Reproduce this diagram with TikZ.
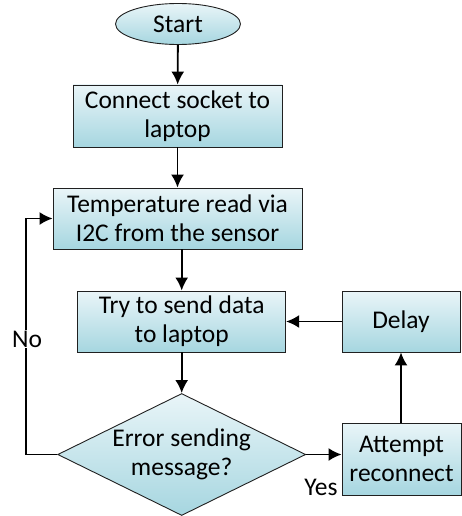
\documentclass[tikz,border=0pt]{standalone}
\usepackage{fontspec}
\setmainfont{Carlito}
\usetikzlibrary{shapes.geometric,arrows.meta}

\definecolor{boxtop}{HTML}{E9F5F8}
\definecolor{boxbottom}{HTML}{A6D6E0}
\definecolor{boxline}{HTML}{202020}

\tikzset{
  base/.style={draw=boxline, line width=0.9pt, top color=boxtop, bottom color=boxbottom,
    align=center, inner sep=0pt, font=\fontsize{25.5}{29}\selectfont},
  process/.style={base, rectangle},
  terminal/.style={base, ellipse},
  decision/.style={base, diamond},
  flow/.style={line width=1.8pt, -{Latex[length=13pt,width=13pt]}},
  tag/.style={font=\fontsize{25.5}{29}\selectfont, inner sep=1pt, align=center}
}

\begin{document}
\begin{tikzpicture}[x=1pt, y=-1pt]
\useasboundingbox (0,0) rectangle (461,516);

% Nodes
\node[terminal, minimum width=125, minimum height=41] (start) at (178,24) {Start};
\node[process, minimum width=209, minimum height=62] (connect) at (177.5,116) {Connect socket to\\laptop};
\node[process, minimum width=249, minimum height=61] (temp) at (177.5,218.5) {Temperature read via\\I2C from the sensor};
\node[process, minimum width=208, minimum height=61] (try) at (181.7,321.5) {Try to send data\\to laptop};
\node[process, minimum width=118, minimum height=61] (delay) at (401,321.5) {Delay};
\node[decision, minimum width=248, minimum height=122,
  label={[tag]center:Error sending\\message?}] (error) at (181.7,454.5) {};
\node[process, minimum width=119, minimum height=72] (attempt) at (401.5,459) {Attempt\\reconnect};

% Main flow
\draw[flow] (start) -- (connect);
\draw[flow] (connect) -- (temp);
\draw[flow] (temp.south -| try.north) -- (try);
\draw[flow] (try) -- (error);

% Error branch
\draw[flow] (error.east) -- (error.east -| attempt.west);
\draw[flow] (attempt.north -| delay.south) -- (delay.south);
\draw[flow] (delay.west) -- (delay.west -| try.east);
\node[tag] (yes) at (321,487) {Yes};

% Loop back on success
\coordinate (noturn) at (25.7,454.5);
\draw[flow] (error.west) -- (noturn) |- (temp.west);
\node[tag, fill=white] (no) at (27,339) {No};

\end{tikzpicture}
\end{document}
